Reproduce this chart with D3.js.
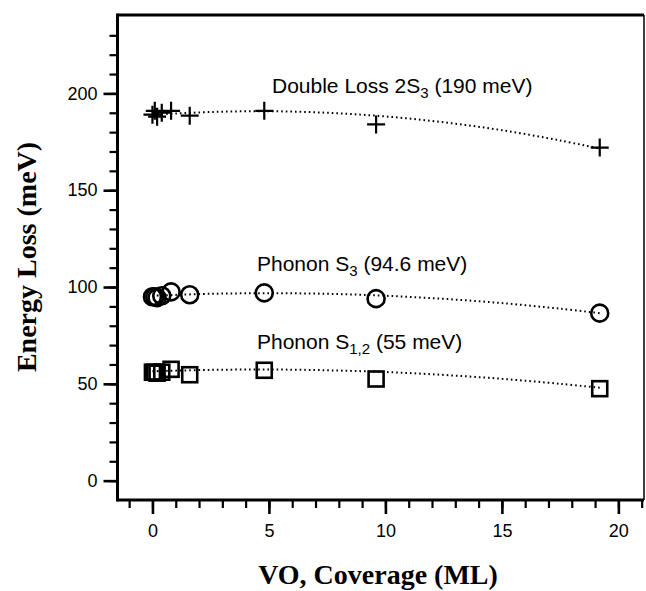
<!DOCTYPE html>
<html><head><meta charset="utf-8">
<script src="https://cdn.jsdelivr.net/npm/d3@7"></script>
<style>body{margin:0;background:#fff;} svg{display:block;}</style>
</head><body>
<svg id="c" width="646" height="591"></svg>
<script>
// ---- data ----
const coverage = [0, 0.1, 0.2, 0.4, 0.8, 1.6, 4.8, 9.6, 19.2];
const doubleLoss = [189, 191, 188, 190, 191, 188.5, 191, 184, 172];
const phononS3 = [95, 95, 94.5, 95.5, 97.5, 96, 97, 94, 86.5];
const phononS12 = [56, 56, 55.5, 56, 57.5, 54.7, 57, 52.5, 47.5];
// dotted fit curves
const fitX = [0, 2.5, 5, 7.5, 10, 12.5, 15, 17.5, 19.2];
const fitDouble = [189, 190.4, 190.8, 190.0, 188.1, 185.1, 181.0, 175.7, 171.5];
const fitS3 = [95.5, 96.5, 96.8, 96.5, 95.5, 93.9, 91.7, 88.8, 86.5];
const fitS12 = [56.5, 57.2, 57.4, 57.0, 56.1, 54.6, 52.6, 50.0, 48.0];
const xMajorTicks = [0, 5, 10, 15, 20];
const xMinorTicks = d3.range(-1, 22, 1);
const yMajorTicks = [0, 50, 100, 150, 200];
const yMinorTicks = d3.range(0, 240, 10);

const svg = d3.select("#c");
const L = 117.5, R = 644, T = 15, B = 500;
const x = d3.scaleLinear().domain([-1.5, 21.1]).range([L, R]);
const y = d3.scaleLinear().domain([-10, 240.5]).range([B, T]);

const sans = "'Liberation Sans', Arial, sans-serif";
const serif = "'Liberation Serif', 'Times New Roman', serif";

// minor ticks
svg.append("g").attr("transform", `translate(0,${B})`)
  .call(d3.axisBottom(x).tickValues(xMinorTicks).tickSize(8).tickFormat(""))
  .call(g => { g.select(".domain").remove(); g.selectAll("line").attr("stroke-width", 2.2); });
svg.append("g").attr("transform", `translate(${L},0)`)
  .call(d3.axisLeft(y).tickValues(yMinorTicks).tickSize(8).tickFormat(""))
  .call(g => { g.select(".domain").remove(); g.selectAll("line").attr("stroke-width", 2.2); });
// major ticks
svg.append("g").attr("transform", `translate(0,${B})`)
  .call(d3.axisBottom(x).tickValues(xMajorTicks).tickSize(14).tickPadding(10).tickFormat(d3.format("d")))
  .call(g => { g.select(".domain").remove(); g.selectAll("line").attr("stroke-width", 2.6);
    g.selectAll("text").attr("font-family", sans).attr("font-size", 18).attr("fill", "#000"); });
svg.append("g").attr("transform", `translate(${L},0)`)
  .call(d3.axisLeft(y).tickValues(yMajorTicks).tickSize(14).tickPadding(6).tickFormat(d3.format("d")))
  .call(g => { g.select(".domain").remove(); g.selectAll("line").attr("stroke-width", 2.6);
    g.selectAll("text").attr("font-family", sans).attr("font-size", 18).attr("fill", "#000"); });

// frame
svg.append("line").attr("x1", L).attr("x2", L).attr("y1", T - 1.5).attr("y2", B + 1.5).attr("stroke", "#000").attr("stroke-width", 3);
svg.append("line").attr("x1", L).attr("x2", R).attr("y1", B).attr("y2", B).attr("stroke", "#000").attr("stroke-width", 3);
svg.append("line").attr("x1", L).attr("x2", R).attr("y1", T).attr("y2", T).attr("stroke", "#000").attr("stroke-width", 3);
svg.append("line").attr("x1", R).attr("x2", R).attr("y1", T).attr("y2", B).attr("stroke", "#000").attr("stroke-width", 1.5);

// fit curves
const line = d3.line().curve(d3.curveCatmullRom.alpha(0.5)).x(d => x(d[0])).y(d => y(d[1]));
[fitDouble, fitS3, fitS12].forEach(f => {
  svg.append("path").datum(fitX.map((v, i) => [v, f[i]])).attr("d", line)
    .attr("fill", "none").attr("stroke", "#000").attr("stroke-width", 2)
    .attr("stroke-dasharray", "1.6,3");
});

// markers
const pts = s => coverage.map((v, i) => [v, s[i]]);
const gP = svg.append("g");
pts(doubleLoss).forEach(d => {
  gP.append("path").attr("d", `M${x(d[0]) - 9},${y(d[1])}h18M${x(d[0])},${y(d[1]) - 9}v18`)
    .attr("stroke", "#000").attr("stroke-width", 2.2).attr("fill", "none");
});
svg.append("g").selectAll("circle").data(pts(phononS3)).join("circle")
  .attr("cx", d => x(d[0])).attr("cy", d => y(d[1])).attr("r", 8.5)
  .attr("fill", "none").attr("stroke", "#000").attr("stroke-width", 2.6);
svg.append("g").selectAll("rect").data(pts(phononS12)).join("rect")
  .attr("x", d => x(d[0]) - 7.5).attr("y", d => y(d[1]) - 7.5).attr("width", 15).attr("height", 15)
  .attr("fill", "none").attr("stroke", "#000").attr("stroke-width", 2.6);

// annotations
function label(px, py, parts) {
  const t = svg.append("text").attr("x", px).attr("y", py).attr("font-family", sans).attr("font-size", 21).attr("fill", "#000");
  parts.forEach(p => {
    if (p.sub) {
      t.append("tspan").attr("font-size", 15).attr("dy", 5).text(p.t);
    } else {
      t.append("tspan").attr("dy", p.back ? -5 : 0).text(p.t);
    }
  });
}
label(272, 93, [{t: "Double Loss 2S"}, {t: "3", sub: true}, {t: " (190 meV)", back: true}]);
label(257, 271, [{t: "Phonon S"}, {t: "3", sub: true}, {t: " (94.6 meV)", back: true}]);
label(257, 349, [{t: "Phonon S"}, {t: "1,2", sub: true}, {t: " (55 meV)", back: true}]);

// axis titles
svg.append("text").attr("x", 378).attr("y", 584).attr("text-anchor", "middle")
  .attr("font-family", serif).attr("font-weight", "bold").attr("font-size", 28).text("VO, Coverage (ML)");
svg.append("text").attr("transform", `translate(36,257) rotate(-90)`).attr("text-anchor", "middle")
  .attr("font-family", serif).attr("font-weight", "bold").attr("font-size", 28).text("Energy Loss (meV)");
</script>
</body></html>
